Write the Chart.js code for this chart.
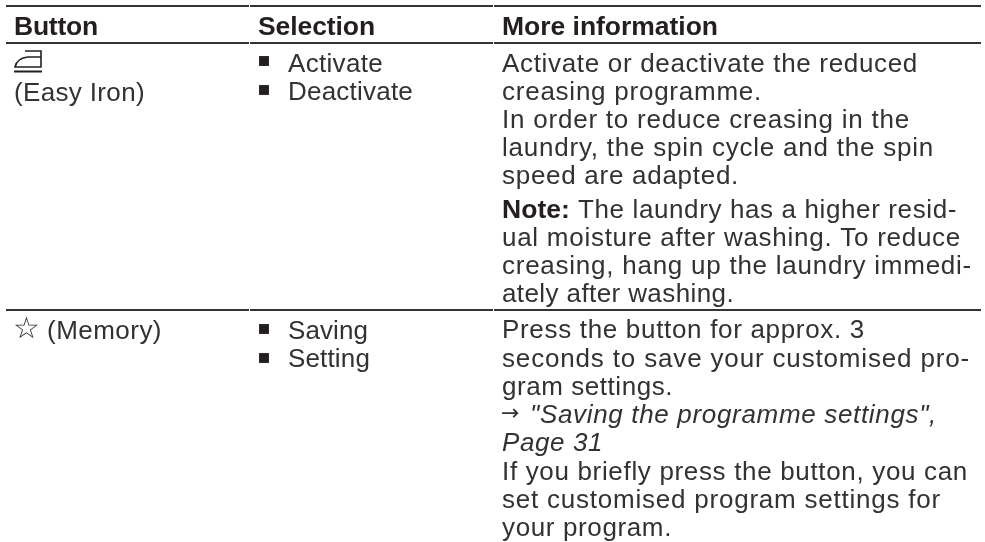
<!DOCTYPE html>
<html lang="en">
<head>
  <meta charset="UTF-8">
  <title>Button table</title>
  <style>
    body { margin: 0; padding: 0; background: #fff; }
    canvas { display: block; }
  </style>
</head>
<body>
  <canvas id="tableChart" width="985" height="542"></canvas>

  <script src="https://cdn.jsdelivr.net/npm/chart.js"></script>
  <script>
    // table content
    const headers = ['Button', 'Selection', 'More information'];
    const buttonLines = ['(Easy Iron)', '(Memory)'];
    const selectionLines = ['Activate', 'Deactivate', 'Saving', 'Setting'];
    const infoLines = [
      'Activate or deactivate the reduced',
      'creasing programme.',
      'In order to reduce creasing in the',
      'laundry, the spin cycle and the spin',
      'speed are adapted.',
      'Note: The laundry has a higher resid-',
      'ual moisture after washing. To reduce',
      'creasing, hang up the laundry immedi-',
      'ately after washing.',
      'Press the button for approx. 3',
      'seconds to save your customised pro-',
      'gram settings.',
      '"Saving the programme settings",',
      'Page 31',
      'If you briefly press the button, you can',
      'set customised program settings for',
      'your program.'
    ];
    const italicLines = [12, 13];

    // rows and columns, in page pixels
    const ruleRows = [6, 43, 310];
    const ruleColumns = [[6, 249], [250, 493], [494, 981]];
    const columnX = [14, 258, 502];
    const headerBaseline = 35;
    const headerEnds = [98, 375, 718];
    const buttonBaselines = [101, 339];
    const buttonX = [14, 47];
    const buttonEnds = [145, 162];
    const selectionX = 288;
    const selectionBaselines = [72, 100, 339, 367];
    const selectionEnds = [383, 413, 368, 370];
    const bulletX = [264, 264, 264, 264];
    const bulletRows = [61, 90, 329, 358];
    const infoBaselines = [72, 100, 128, 156, 184, 218, 246, 274, 302, 338, 367, 395, 423, 451, 480, 508, 536];
    const infoEnds = [918, 762, 910, 934, 739, 957, 961, 972, 734, 865, 970, 673, 937, 603, 968, 941, 672];

    const ink = '#333132';
    const boldInk = '#231f20';
    const textFont = '"Liberation Sans"';

    const rules = ruleRows.flatMap(y => ruleColumns.map(c => ({
      type: 'line',
      data: [{ x: c[0], y: y }, { x: c[1], y: y }],
      borderColor: '#333',
      borderWidth: 2,
      pointRadius: 0
    })));

    const tableText = {
      id: 'tableText',
      afterDatasetsDraw(chart) {
        const ctx = chart.ctx;
        const sx = chart.scales.x;
        const sy = chart.scales.y;
        const px = v => sx.getPixelForValue(v);
        const py = v => sy.getPixelForValue(v);

        // draw a line so it runs from x to the end
        const fit = (s, x, end, y, font) => {
          ctx.font = font;
          ctx.letterSpacing = '0px';
          const natural = ctx.measureText(s).width;
          ctx.letterSpacing = ((end - x - natural) / s.length).toFixed(3) + 'px';
          ctx.fillText(s, px(x), py(y));
        };

        ctx.save();
        ctx.textBaseline = 'alphabetic';

        const bold = 'bold 26.5px ' + textFont;
        const plain = '26px ' + textFont;
        const italic = 'italic 26px ' + textFont;

        ctx.fillStyle = boldInk;
        headers.forEach((h, i) => fit(h, columnX[i], headerEnds[i], headerBaseline, bold));
        fit('Note:', columnX[2], 570, infoBaselines[5], bold);

        ctx.fillStyle = ink;
        buttonLines.forEach((s, i) => fit(s, buttonX[i], buttonEnds[i], buttonBaselines[i], plain));
        selectionLines.forEach((s, i) => fit(s, selectionX, selectionEnds[i], selectionBaselines[i], plain));

        infoLines.forEach((s, i) => {
          const y = infoBaselines[i];
          if (s.startsWith('Note:')) {
            fit(s.slice(6), 578, infoEnds[i], y, plain);
          } else if (i === italicLines[0]) {
            fit(s, 530, infoEnds[i], y, italic);
          } else if (italicLines.includes(i)) {
            fit(s, columnX[2], infoEnds[i], y, italic);
          } else {
            fit(s, columnX[2], infoEnds[i], y, plain);
          }
        });

        // arrow and star are real glyphs
        ctx.letterSpacing = '0px';
        ctx.font = '22px "DejaVu Sans"';
        ctx.fillText('\u2192', px(501), py(infoBaselines[12] - 3));
        ctx.font = '30px "DejaVu Sans"';
        ctx.fillText('\u2606', px(13), py(buttonBaselines[1] - 1));

        // iron icon
        ctx.strokeStyle = boldInk;
        ctx.lineWidth = 1.6;
        ctx.beginPath();
        ctx.moveTo(px(25), py(51));
        ctx.lineTo(px(41), py(51));
        ctx.lineTo(px(41), py(67));
        ctx.lineTo(px(15), py(67));
        ctx.quadraticCurveTo(px(17), py(58), px(28), py(57));
        ctx.lineTo(px(41), py(57));
        ctx.stroke();
        ctx.lineWidth = 2;
        ctx.beginPath();
        ctx.moveTo(px(14), py(71.5));
        ctx.lineTo(px(42), py(71.5));
        ctx.stroke();
        ctx.restore();
      }
    };

    new Chart(document.getElementById('tableChart'), {
      type: 'scatter',
      data: {
        datasets: [
          ...rules,
          {
            type: 'scatter',
            data: bulletRows.map((y, i) => ({ x: bulletX[i], y: y })),
            pointStyle: 'rect',
            pointRadius: 7,
            borderWidth: 0,
            backgroundColor: boldInk
          }
        ]
      },
      options: {
        responsive: false,
        animation: false,
        layout: { padding: 0, autoPadding: false },
        plugins: { legend: { display: false }, tooltip: { enabled: false } },
        scales: {
          x: { type: 'linear', display: false, min: 0, max: 985 },
          y: { type: 'linear', display: false, min: 0, max: 542, reverse: true }
        }
      },
      plugins: [tableText]
    });
  </script>
</body>
</html>
